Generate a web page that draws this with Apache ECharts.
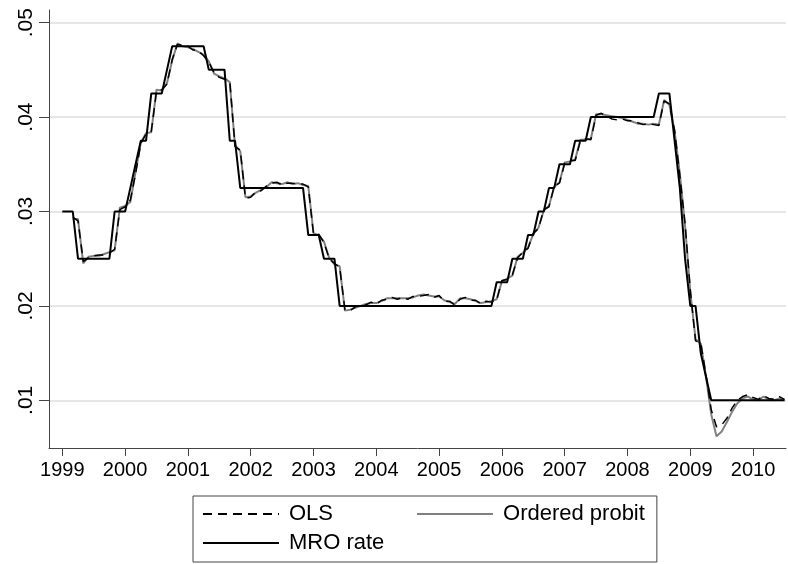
<!DOCTYPE html>
<html>
<head>
<meta charset="utf-8">
<script src="https://cdn.jsdelivr.net/npm/echarts@6/dist/echarts.min.js"></script>
<style>
  html, body { margin: 0; padding: 0; background: #fff; }
  #chart { width: 788px; height: 564px; }
</style>
</head>
<body>
<div id="chart"></div>
<script>
// Monthly series, January 1999 through July 2010
const startYear = 1999;

const mroRate = [
  .03, .03, .03, .025, .025, .025, .025, .025, .025, .025, .03, .03,
  .03, .0325, .035, .0375, .0375, .0425, .0425, .0425, .045, .0475, .0475, .0475,
  .0475, .0475, .0475, .0475, .045, .045, .045, .045, .0375, .0375, .0325, .0325,
  .0325, .0325, .0325, .0325, .0325, .0325, .0325, .0325, .0325, .0325, .0325, .0275,
  .0275, .0275, .025, .025, .025, .02, .02, .02, .02, .02, .02, .02,
  .02, .02, .02, .02, .02, .02, .02, .02, .02, .02, .02, .02,
  .02, .02, .02, .02, .02, .02, .02, .02, .02, .02, .02, .0225,
  .0225, .0225, .025, .025, .025, .0275, .0275, .03, .03, .0325, .0325, .035,
  .035, .035, .0375, .0375, .0375, .04, .04, .04, .04, .04, .04, .04,
  .04, .04, .04, .04, .04, .04, .0425, .0425, .0425, .0375, .0325, .025,
  .02, .02, .015, .0125, .01, .01, .01, .01, .01, .01, .01, .01,
  .01, .01, .01, .01, .01, .01, .01
];

const olsFit = [
  null, null, .0294, .0290, .0247, .0251, .0253, .0254, .0254, .0256, .0260, .0302,
  .0305, .0312, .0340, .0372, .0382, .0385, .0427, .0429, .0435, .0461, .0477, .0476,
  .0475, .0471, .0470, .0465, .0458, .0447, .0442, .0440, .0438, .0369, .0365, .0314,
  .0315, .0321, .0322, .0327, .0330, .0331, .0328, .0330, .0330, .0329, .0329, .0326,
  .0276, .0276, .0267, .0250, .0245, .0241, .0196, .0195, .0199, .0201, .0201, .0204,
  .0202, .0206, .0207, .0209, .0207, .0209, .0207, .0210, .0210, .0211, .0212, .0209,
  .0211, .0205, .0205, .0201, .0207, .0209, .0206, .0206, .0202, .0205, .0204, .0206,
  .0227, .0228, .0233, .0251, .0257, .0261, .0277, .0282, .0302, .0305, .0327, .0330,
  .0351, .0354, .0354, .0375, .0377, .0376, .0402, .0404, .0401, .0398, .0397, .0398,
  .0396, .0396, .0394, .0392, .0393, .0392, .0391, .0417, .0414, .0386, .0338, .0287,
  .0217, .0163, .0161, .0127, .0090, .0072, .0074, .0081, .0092, .0100, .0104, .0106,
  .0103, .0101, .0105, .0102, .0101, .0104, .0101
];

const probitFit = [
  null, null, .0292, .0292, .0245, .0252, .0253, .0253, .0255, .0257, .0259, .0304,
  .0306, .0310, .0342, .0373, .0383, .0384, .0429, .0428, .0436, .0460, .0478, .0475,
  .0474, .0472, .0469, .0466, .0459, .0446, .0443, .0441, .0437, .0370, .0364, .0315,
  .0316, .0320, .0323, .0326, .0331, .0330, .0329, .0331, .0329, .0330, .0328, .0327,
  .0277, .0275, .0268, .0251, .0244, .0242, .0195, .0196, .0198, .0200, .0202, .0203,
  .0203, .0205, .0208, .0208, .0208, .0208, .0208, .0209, .0211, .0212, .0211, .0210,
  .0210, .0206, .0204, .0202, .0208, .0208, .0207, .0205, .0203, .0204, .0205, .0207,
  .0226, .0229, .0232, .0252, .0256, .0262, .0276, .0283, .0301, .0306, .0326, .0331,
  .0352, .0353, .0355, .0376, .0376, .0377, .0403, .0403, .0402, .0401, .0400, .0399,
  .0397, .0395, .0393, .0393, .0392, .0393, .0392, .0418, .0413, .0385, .0340, .0285,
  .0215, .0165, .0160, .0125, .0085, .0062, .0067, .0077, .0088, .0097, .0102, .0104,
  .0101, .0100, .0104, .0101, .0100, .0102, .0100
];

const yearTicks = [1999, 2000, 2001, 2002, 2003, 2004, 2005, 2006, 2007, 2008, 2009, 2010];
const rateTicks = [.01, .02, .03, .04, .05];

// pair each monthly value with its fractional-year position
function toPoints(values) {
  return values.map((v, i) => [startYear + i / 12, v]);
}

const FONT = "'Liberation Sans', Arial, Helvetica, sans-serif";
const AXIS_COLOR = '#444';

const chart = echarts.init(document.getElementById('chart'), null, { renderer: 'canvas' });

chart.setOption({
  animation: false,
  backgroundColor: '#fff',
  textStyle: { fontFamily: FONT },
  grid: { left: 49, right: 2, top: 10, bottom: 116, containLabel: false },
  xAxis: {
    type: 'value',
    min: 1998.788,
    max: 2010.524,
    axisLine: { show: true, onZero: false, lineStyle: { color: AXIS_COLOR, width: 1 } },
    axisTick: { show: true, length: 8, customValues: yearTicks, lineStyle: { color: AXIS_COLOR, width: 1 } },
    axisLabel: {
      show: true, customValues: yearTicks, margin: 12,
      color: '#000', fontSize: 20, fontFamily: FONT,
      formatter: v => String(Math.round(v))
    },
    splitLine: { show: false }
  },
  yAxis: {
    type: 'value',
    min: 0.00495,
    max: 0.05134,
    axisLine: { show: true, onZero: false, lineStyle: { color: AXIS_COLOR, width: 1 } },
    axisTick: { show: true, length: 10, customValues: rateTicks, lineStyle: { color: AXIS_COLOR, width: 1 } },
    axisLabel: {
      show: true, customValues: rateTicks, rotate: 90, margin: 12,
      color: '#000', fontSize: 21, fontFamily: FONT,
      formatter: v => v.toFixed(2).replace(/^0/, '')
    },
    splitLine: { show: true, lineStyle: { color: '#e6e6e6', width: 2 } }
  },
  legend: [
    {
      data: ['OLS', 'Ordered probit'],
      orient: 'horizontal',
      left: 193, top: 496,
      padding: [7, 12, 37, 9],
      itemWidth: 76, itemHeight: 14, itemGap: 83,
      borderColor: '#444', borderWidth: 1, borderRadius: 0,
      backgroundColor: '#fff',
      itemStyle: { opacity: 0 },
      textStyle: { fontSize: 22, color: '#000', fontFamily: FONT, padding: [0, 0, 0, 5] },
      selectedMode: false
    },
    {
      data: ['MRO rate'],
      orient: 'horizontal',
      left: 202, top: 532,
      padding: 0,
      itemWidth: 76, itemHeight: 14,
      itemStyle: { opacity: 0 },
      textStyle: { fontSize: 22, color: '#000', fontFamily: FONT, padding: [0, 0, 0, 5] },
      selectedMode: false
    }
  ],
  series: [
    {
      name: 'Ordered probit',
      type: 'line',
      data: toPoints(probitFit),
      symbol: 'none',
      lineStyle: { color: '#808080', width: 2 },
      itemStyle: { color: '#808080' },
      z: 2
    },
    {
      name: 'OLS',
      type: 'line',
      data: toPoints(olsFit),
      symbol: 'none',
      lineStyle: { color: '#000', width: 1.5, type: [9, 6] },
      itemStyle: { color: '#000' },
      z: 3
    },
    {
      name: 'MRO rate',
      type: 'line',
      data: toPoints(mroRate),
      symbol: 'none',
      lineStyle: { color: '#000', width: 2 },
      itemStyle: { color: '#000' },
      z: 4
    }
  ]
});
</script>
</body>
</html>
